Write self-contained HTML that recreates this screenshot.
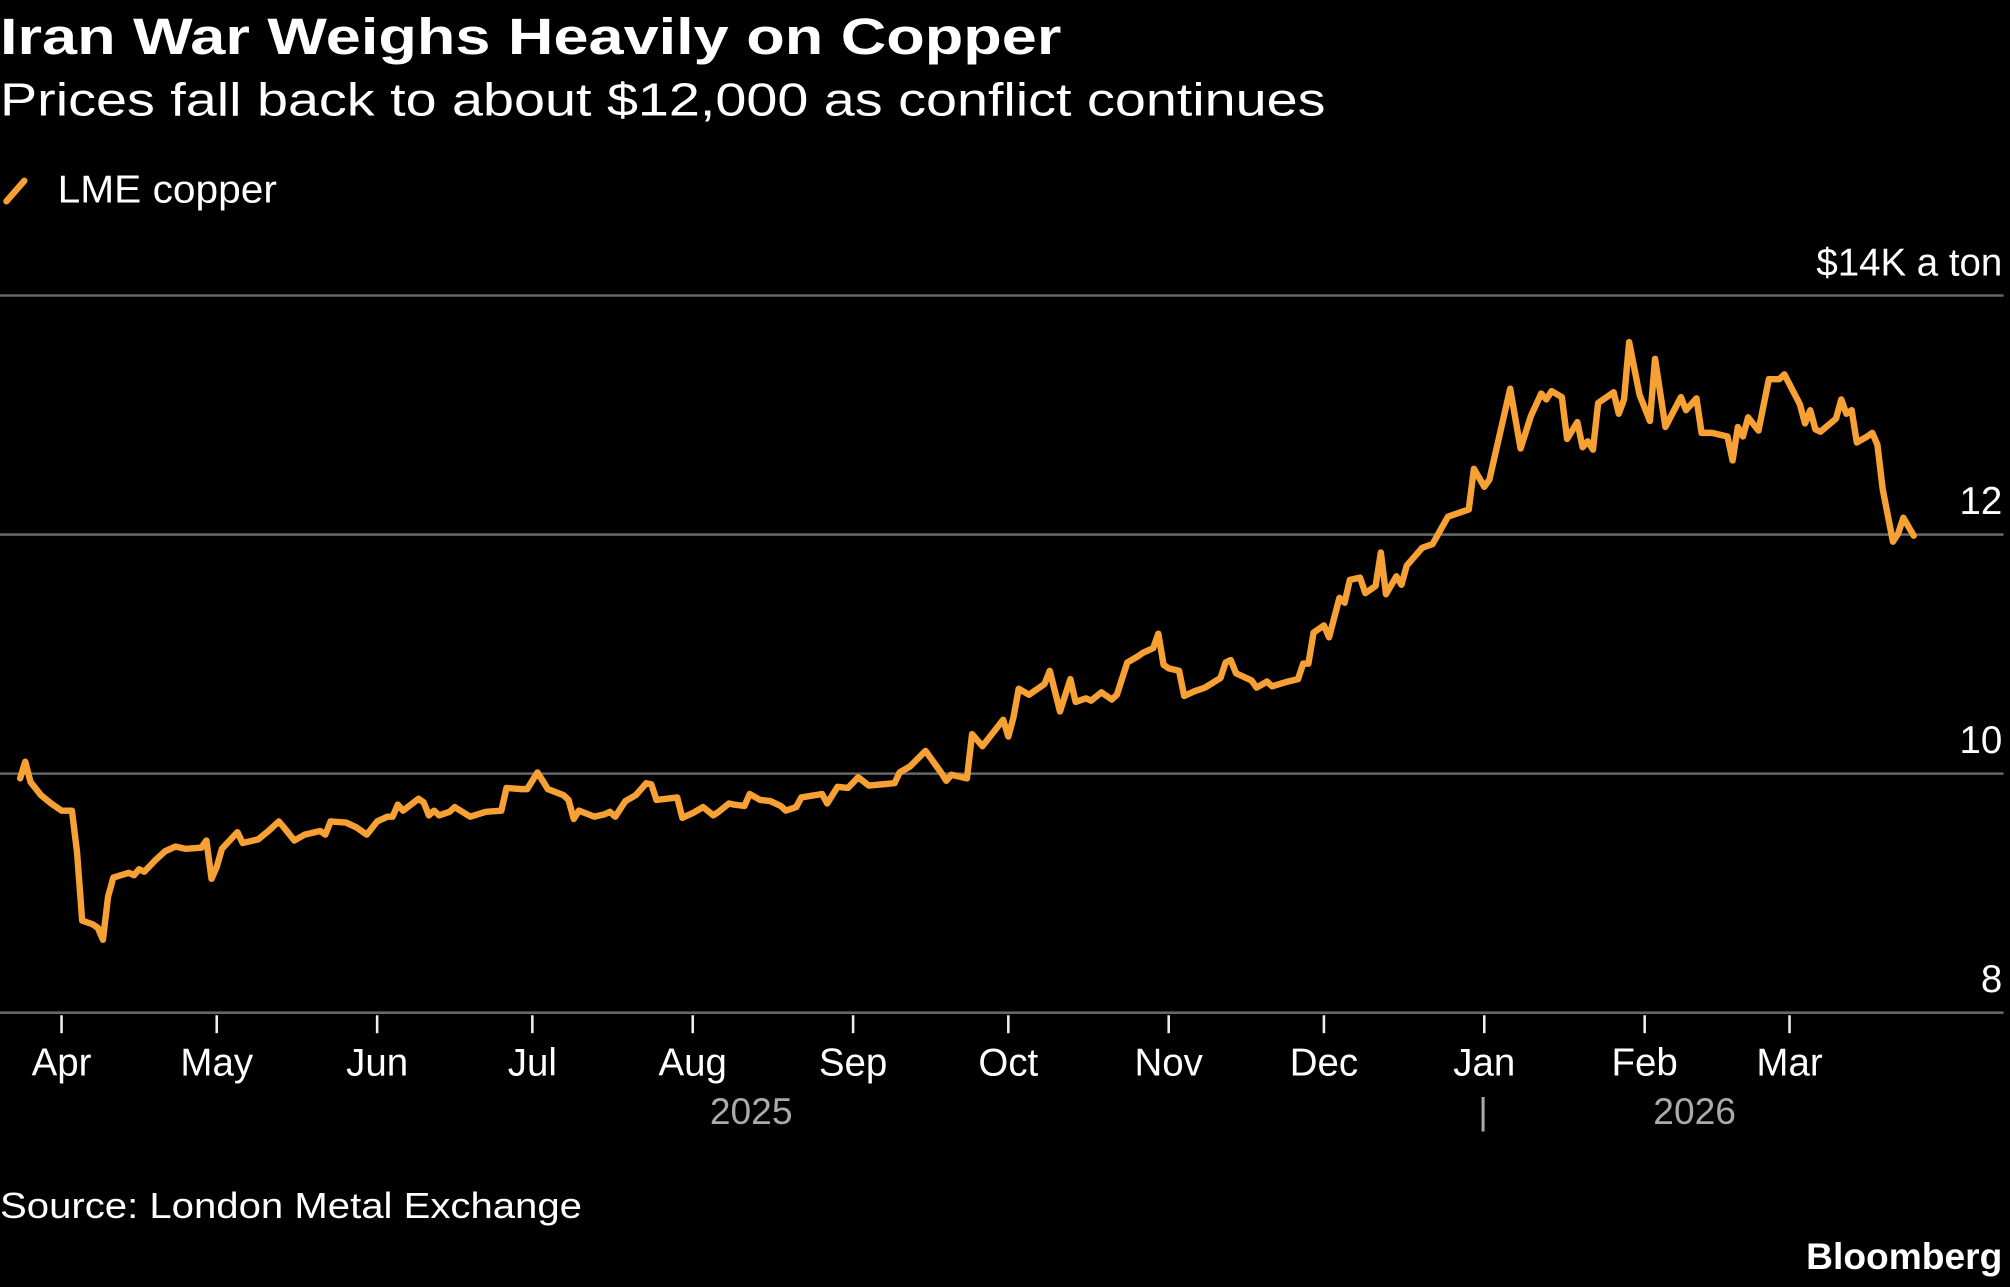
<!DOCTYPE html>
<html><head><meta charset="utf-8"><style>
html,body{margin:0;padding:0;background:#000;}
svg{display:block;}
text{font-family:"Liberation Sans",sans-serif;fill:#fff;}
</style></head><body>
<svg id="chart" width="2010" height="1287" viewBox="0 0 1568 1004" xmlns="http://www.w3.org/2000/svg">
<rect width="1568" height="1004" fill="#000"/>
<text x="0" y="42" font-size="40" font-weight="bold" textLength="828" lengthAdjust="spacingAndGlyphs">Iran War Weighs Heavily on Copper</text>
<text x="0" y="90" font-size="36" textLength="1034" lengthAdjust="spacingAndGlyphs">Prices fall back to about $12,000 as conflict continues</text>
<g>
<line x1="5" y1="157" x2="19" y2="141" stroke="#f7a134" stroke-width="5" stroke-linecap="round"/>
<text x="45" y="158" font-size="30" textLength="171" lengthAdjust="spacingAndGlyphs">LME copper</text>
</g>
<text x="1562" y="215" font-size="30" text-anchor="end">$14K a ton</text>
<g id="grid"></g>
<g id="xaxis"></g>
<path id="series" fill="none" stroke="#f7a134" stroke-width="5" stroke-linejoin="round" stroke-linecap="round"/>
<text x="586" y="877" font-size="29" style="fill:#aaa" text-anchor="middle">2025</text>
<text x="1157" y="877" font-size="29" style="fill:#aaa" text-anchor="middle">|</text>
<text x="1322" y="877" font-size="29" style="fill:#aaa" text-anchor="middle">2026</text>
<text x="0" y="950" font-size="28" textLength="454" lengthAdjust="spacingAndGlyphs">Source: London Metal Exchange</text>
<text x="1562" y="990" font-size="29" font-weight="bold" text-anchor="end">Bloomberg</text>
</svg>
<script>
// days since 2025-04-01
const days = [-8,-7,-6,-4,-2,0,2,3,4,6,7,8,9,10,13,14,15,16,18,20,22,24,27,28,29,30,31,34,35,38,40,42,43,45,47,50,51,52,55,57,59,61,63,64,65,66,69,70,71,72,73,75,76,79,82,85,86,89,90,92,94,97,98,99,100,103,105,106,107,109,111,113,114,115,119,120,122,124,126,127,129,130,132,133,135,137,139,140,142,143,147,148,150,152,154,156,161,162,164,167,170,171,172,175,176,178,182,183,184,185,187,189,190,191,193,195,196,198,199,201,203,204,206,208,209,211,212,213,214,216,217,219,221,224,225,226,227,230,231,233,234,237,239,240,241,242,244,245,247,248,249,251,252,254,255,256,258,259,260,261,263,265,268,272,273,275,276,280,282,284,286,287,288,290,291,293,294,295,296,297,300,301,302,303,305,307,308,310,313,314,316,317,319,322,323,324,325,326,328,330,332,333,336,337,338,339,340,343,344,345,346,347,349,350,351,352,354,355,356,358];
// price, $K per ton
const prices = [9.96,10.10,9.93,9.82,9.75,9.69,9.69,9.34,8.77,8.74,8.71,8.61,8.97,9.13,9.17,9.15,9.20,9.18,9.27,9.35,9.39,9.37,9.38,9.44,9.12,9.22,9.37,9.51,9.42,9.45,9.52,9.60,9.55,9.44,9.49,9.52,9.49,9.60,9.59,9.55,9.49,9.60,9.64,9.64,9.74,9.69,9.79,9.76,9.65,9.69,9.65,9.68,9.72,9.64,9.68,9.69,9.88,9.87,9.87,10.01,9.87,9.82,9.78,9.62,9.69,9.64,9.66,9.68,9.64,9.77,9.82,9.92,9.91,9.78,9.80,9.63,9.67,9.72,9.65,9.68,9.75,9.74,9.73,9.83,9.78,9.77,9.73,9.69,9.72,9.80,9.83,9.75,9.89,9.88,9.97,9.90,9.92,10.01,10.06,10.19,10.01,9.94,9.99,9.96,10.33,10.23,10.45,10.31,10.47,10.71,10.66,10.72,10.75,10.86,10.52,10.79,10.60,10.63,10.61,10.68,10.62,10.66,10.93,10.98,11.01,11.05,11.17,10.91,10.88,10.86,10.65,10.69,10.72,10.80,10.93,10.95,10.84,10.78,10.72,10.77,10.73,10.77,10.79,10.92,10.92,11.18,11.24,11.14,11.47,11.43,11.62,11.64,11.51,11.57,11.85,11.50,11.65,11.58,11.74,11.79,11.89,11.92,12.15,12.21,12.55,12.40,12.46,13.22,12.72,12.99,13.18,13.13,13.20,13.15,12.80,12.94,12.73,12.78,12.71,13.10,13.19,13.01,13.13,13.61,13.17,12.95,13.47,12.90,13.15,13.04,13.14,12.85,12.85,12.82,12.62,12.90,12.82,12.98,12.87,13.30,13.30,13.34,13.09,12.93,13.04,12.88,12.86,12.97,13.13,13.01,13.04,12.77,12.82,12.85,12.75,12.38,11.94,12.01,12.14,11.99];
const yTicks = [14,12,10,8];
const yTickLabels = ["","12","10","8"];
const monthDays = [0,30,61,91,122,153,183,214,244,275,306,334];
const monthLabels = ["Apr","May","Jun","Jul","Aug","Sep","Oct","Nov","Dec","Jan","Feb","Mar"];

const NS = "http://www.w3.org/2000/svg";
const xScale = d => 48 + d * 4.036;
const yScale = v => 790 - (v - 8) * 93.25;

const grid = document.getElementById('grid');
yTicks.forEach((t, i) => {
  const ln = document.createElementNS(NS, 'line');
  
  
  ln.setAttribute('x1', 0); ln.setAttribute('x2', 1563);
  ln.setAttribute('y1', yScale(t)); ln.setAttribute('y2', yScale(t));
  ln.setAttribute('stroke', '#666'); ln.setAttribute('stroke-width', 2);
  grid.appendChild(ln);
  if (yTickLabels[i]) {
    const tx = document.createElementNS(NS, 'text');
    
    
    tx.setAttribute('x', 1562); tx.setAttribute('y', yScale(t) - 16);
    tx.setAttribute('font-size', 30); tx.setAttribute('text-anchor', 'end');
    tx.textContent = yTickLabels[i];
    grid.appendChild(tx);
  }
});
const xaxis = document.getElementById('xaxis');
monthDays.forEach((d, i) => {
  const x = xScale(d);
  const tk = document.createElementNS(NS, 'line');
  
  
  tk.setAttribute('x1', x); tk.setAttribute('x2', x);
  tk.setAttribute('y1', 792); tk.setAttribute('y2', 806);
  tk.setAttribute('stroke', '#eee'); tk.setAttribute('stroke-width', 2);
  xaxis.appendChild(tk);
  const tx = document.createElementNS(NS, 'text');
  
  
  tx.setAttribute('x', x); tx.setAttribute('y', 839);
  tx.setAttribute('font-size', 30); tx.setAttribute('text-anchor', 'middle');
  tx.textContent = monthLabels[i];
  xaxis.appendChild(tx);
});
let dstr = '';
days.forEach((d, i) => { dstr += (i ? 'L' : 'M') + xScale(d).toFixed(1) + ',' + yScale(prices[i]).toFixed(1); });
document.getElementById('series').setAttribute('d', dstr);
</script>
</body></html>
